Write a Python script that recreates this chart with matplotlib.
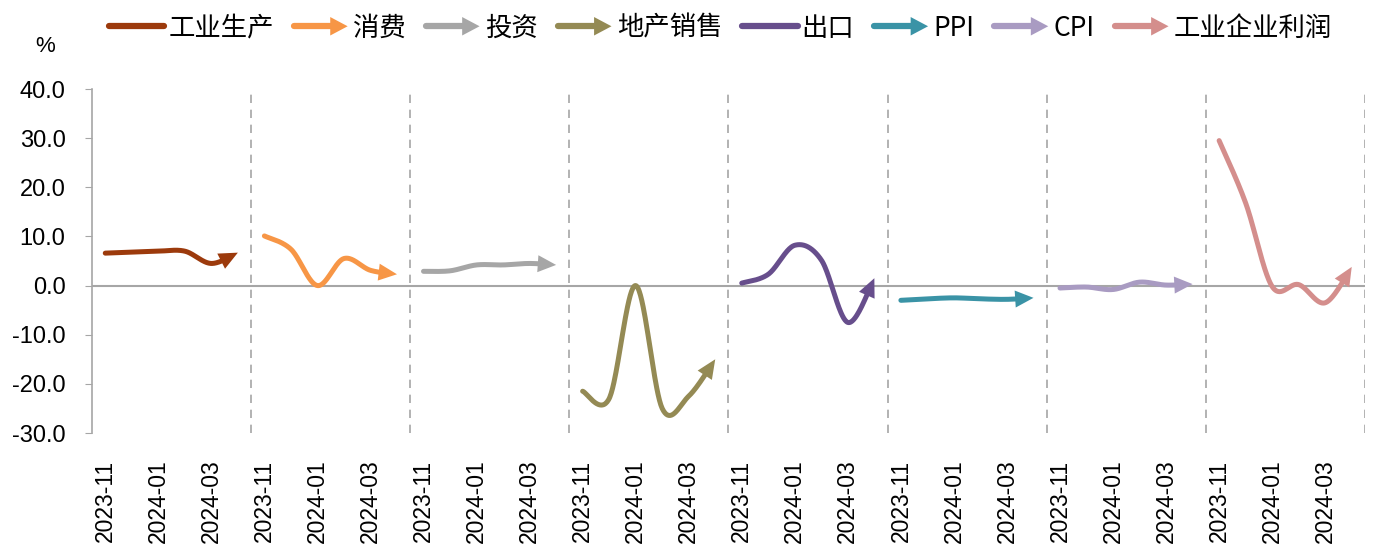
import numpy as np
import matplotlib.pyplot as plt
from matplotlib.lines import Line2D
from matplotlib.patches import Polygon
from matplotlib.legend_handler import HandlerBase

plt.rcParams['font.family'] = ['Noto Sans CJK SC', 'DejaVu Sans']

# monthly readings, 2023-11 .. 2024-04 (%)
months = ['2023-11', '2023-12', '2024-01', '2024-02', '2024-03', '2024-04']
names = ['工业生产', '消费', '投资', '地产销售', '出口', 'PPI', 'CPI', '工业企业利润']
industry = [6.6, 6.8, 7.0, 7.0, 4.5, 6.7]
consumption = [10.1, 7.4, 0.0, 5.5, 3.1, 2.3]
investment = [2.9, 3.0, 4.2, 4.2, 4.5, 4.2]
property_sales = [-21.5, -23.0, 0.0, -25.0, -22.5, -15.0]
exports = [0.5, 2.3, 8.2, 5.2, -7.5, 1.5]
ppi = [-3.0, -2.7, -2.5, -2.7, -2.8, -2.5]
cpi = [-0.5, -0.3, -0.8, 0.7, 0.1, 0.3]
profits = [29.5, 16.8, -0.2, 0.2, -3.5, 3.8]
series = [industry, consumption, investment, property_sales, exports, ppi, cpi, profits]
colors = ['#9C3A0C', '#F79646', '#A6A6A6', '#948A54', '#674E8C', '#3A93A6', '#A99BC2', '#D48E8C']
legend_arrow = [False, True, True, True, False, True, True, True]

HEAD_LEN = 18   # arrowhead size, pixels
HEAD_HALF = 8.5


def smooth(x, y, n=40):
    # Catmull-Rom style Bezier through every point (like Excel's smoothed line)
    p = np.column_stack([x, y]).astype(float)
    ext = np.vstack([p[0], p, p[-1]])
    out = []
    t = np.linspace(0, 1, n)[:, None]
    for i in range(len(p) - 1):
        p0, p1, p2, p3 = ext[i], ext[i + 1], ext[i + 2], ext[i + 3]
        c1 = p1 + (p2 - p0) / 6
        c2 = p2 - (p3 - p1) / 6
        seg = ((1 - t) ** 3) * p1 + 3 * ((1 - t) ** 2) * t * c1 + 3 * (1 - t) * t ** 2 * c2 + t ** 3 * p2
        out.append(seg if i == 0 else seg[1:])
    return np.vstack(out)


class ArrowHandler(HandlerBase):
    def __init__(self, arrow):
        super().__init__()
        self.arrow = arrow

    def create_artists(self, legend, orig_handle, xdescent, ydescent, width, height, fontsize, trans):
        c = orig_handle.get_color()
        yc = height / 2 - ydescent
        hl = 0.3 * width if self.arrow else 0
        line = Line2D([-xdescent + 3, -xdescent + width - hl + 1], [yc, yc], color=c, lw=4.5,
                      solid_capstyle='round', transform=trans)
        arts = [line]
        if self.arrow:
            x1 = -xdescent + width
            tri = Polygon([[x1 - hl, yc + 0.5 * height], [x1, yc], [x1 - hl, yc - 0.5 * height]],
                          closed=True, color=c, lw=0, transform=trans)
            arts.append(tri)
        return arts


fig = plt.figure(figsize=(13.73, 5.49), dpi=100)
ax = fig.add_axes([92 / 1373, 116 / 549, 1273 / 1373, 344 / 549])

ng = len(series)
npts = len(months)
ax.set_xlim(-0.5, ng * npts - 0.5)
ax.set_ylim(-30, 40)

for g, (vals, c) in enumerate(zip(series, colors)):
    x = g * npts + np.arange(npts)
    curve = smooth(x, vals)
    pix = ax.transData.transform(curve)
    tip = pix[-1]
    # step back along the curve by the head length to find the arrow base
    dist = np.hypot(*(pix - tip).T)
    k = np.where(dist >= HEAD_LEN)[0][-1]
    base = pix[k]
    d = (tip - base) / np.hypot(*(tip - base))
    nrm = np.array([-d[1], d[0]])
    head = np.array([base + nrm * HEAD_HALF, tip, base - nrm * HEAD_HALF])
    line = ax.transData.inverted().transform(np.vstack([pix[:k + 1], base + d * 3]))
    ax.plot(line[:, 0], line[:, 1], color=c, lw=3.6,
            solid_capstyle='round', solid_joinstyle='round', zorder=3)
    ax.add_patch(Polygon(ax.transData.inverted().transform(head), closed=True,
                         color=c, lw=0, zorder=4))

yt = np.arange(-30, 41, 10)
ax.set_yticks(yt)
ax.set_yticklabels([f'{v:.1f}' for v in yt], fontsize=17, family='Liberation Sans')

ticks = [g * npts + i for g in range(ng) for i in (0, 2, 4)]
ax.set_xticks(ticks)
ax.set_xticklabels([months[i] for g in range(ng) for i in (0, 2, 4)], rotation=90,
                   fontsize=16.5, family='Liberation Sans')
ax.tick_params(axis='x', length=0, pad=19)
ax.tick_params(axis='y', length=5, color='#A6A6A6', pad=14)

for s in ['top', 'right', 'bottom']:
    ax.spines[s].set_visible(False)
ax.spines['left'].set_color('#A6A6A6')
ax.spines['left'].set_linewidth(1.2)
ax.axhline(0, color='#A6A6A6', lw=1.5, zorder=1)
for g in range(1, ng + 1):
    ax.axvline(g * npts - 0.5, color='#A6A6A6', lw=1.2, ls=(0, (5, 4)), zorder=1)

fig.text(45 / 1373, 1 - 46 / 549, '%', fontsize=16, ha='center', va='center', family='Liberation Sans')

handles = [Line2D([], [], color=c) for c in colors]
hmap = {h: ArrowHandler(a) for h, a in zip(handles, legend_arrow)}
fig.legend(handles, names, handler_map=hmap, loc='center', bbox_to_anchor=(0.5 + 32 / 1373, 1 - 28 / 549),
           ncol=8, frameon=False, handlelength=2.2, handleheight=0.7,
           handletextpad=0.2, columnspacing=0.6,
           prop={'family': ['Noto Sans CJK SC', 'DejaVu Sans'], 'size': 19})

fig.savefig('out.png', dpi=100)
